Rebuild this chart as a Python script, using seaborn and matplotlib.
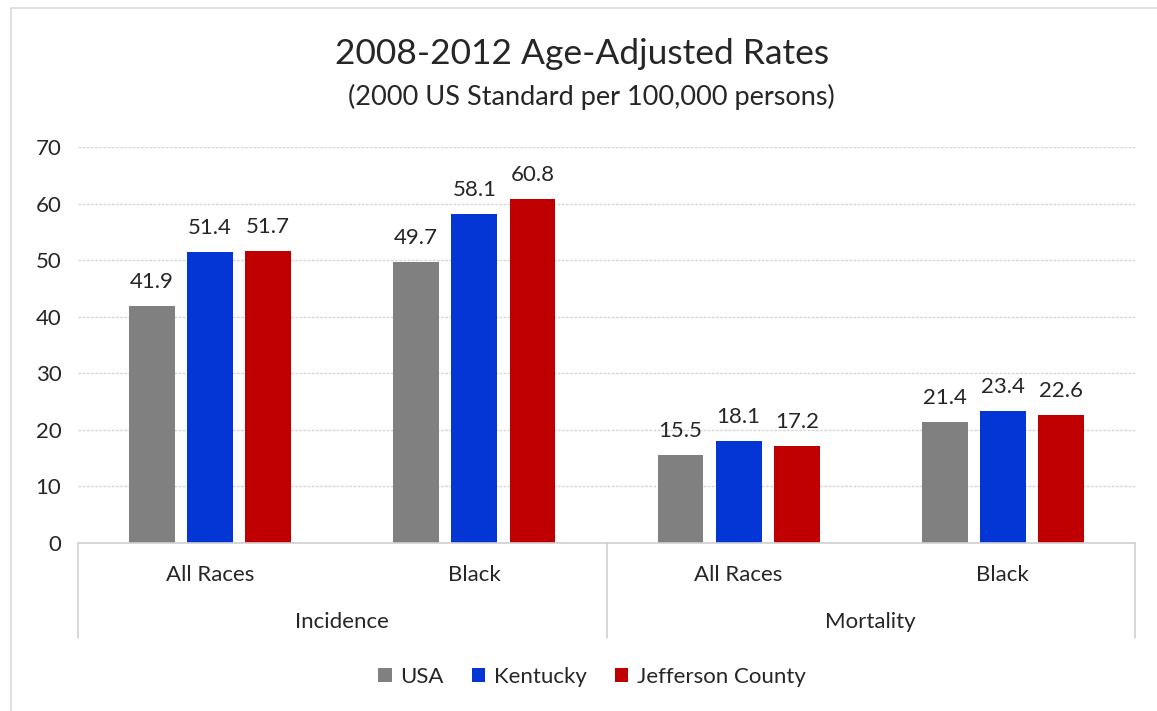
import matplotlib
matplotlib.use("Agg")
import matplotlib.pyplot as plt
import seaborn as sns
import pandas as pd
from matplotlib.patches import Rectangle
from matplotlib.lines import Line2D

# ---- data ----
groups = ["Incidence", "Incidence", "Mortality", "Mortality"]
races = ["All Races", "Black", "All Races", "Black"]
series = ["USA", "Kentucky", "Jefferson County"]
usa = [41.9, 49.7, 15.5, 21.4]
kentucky = [51.4, 58.1, 18.1, 23.4]
jefferson = [51.7, 60.8, 17.2, 22.6]
yticks = [0, 10, 20, 30, 40, 50, 60, 70]
title = "2008-2012 Age-Adjusted Rates"
subtitle = "(2000 US Standard per 100,000 persons)"

colors = ["#808080", "#0436D6", "#C00000"]
txt = "#262626"

cats = [f"{g}|{r}" for g, r in zip(groups, races)]
rows = []
for name, vals in zip(series, [usa, kentucky, jefferson]):
    for c, v in zip(cats, vals):
        rows.append({"cat": c, "series": name, "value": v})
df = pd.DataFrame(rows)

sns.set_theme(style="white")
plt.rcParams["font.family"] = ["Lato", "DejaVu Sans"]

W, H = 1157, 711
fig = plt.figure(figsize=(W / 100, H / 100), dpi=100)
ax = fig.add_axes([78 / W, 1 - 543 / H, (1135 - 78) / W, (543 - 147) / H])

sns.barplot(data=df, x="cat", y="value", hue="series", order=cats,
            hue_order=series, palette=colors, width=0.66, gap=0.21,
            saturation=1, ax=ax, legend=False, edgecolor="none")

ax.set_ylim(0, 70)
ax.set_xlim(-0.5, 3.5)
ax.set_yticks(yticks)
ax.set_yticklabels([str(t) for t in yticks], fontsize=16, color=txt)
ax.tick_params(axis="y", length=0, pad=12)
ax.set_xticks([])
ax.set_xlabel("")
ax.set_ylabel("")
for s in ["top", "right", "left"]:
    ax.spines[s].set_visible(False)
ax.spines["bottom"].set_color("#d0d0d0")
ax.spines["bottom"].set_linewidth(1.2)
ax.yaxis.grid(True, color="#d6d6d6", linestyle=(0, (2, 1)), linewidth=1.0)
ax.set_axisbelow(True)

# data labels
for cont in ax.containers:
    ax.bar_label(cont, labels=[f"{v:.1f}" for v in cont.datavalues],
                 padding=10, fontsize=16, color=txt)

# multi-level category axis
trans = ax.get_xaxis_transform()
for i, r in enumerate(races):
    ax.text(i, -0.081, r, transform=trans, ha="center", va="center",
            fontsize=16, color=txt)
uniq = []
for g in groups:
    if g not in uniq:
        uniq.append(g)
for gname in uniq:
    idx = [i for i, g in enumerate(groups) if g == gname]
    ax.text((idx[0] + idx[-1]) / 2, -0.20, gname, transform=trans,
            ha="center", va="center", fontsize=16, color=txt)
for xb in [-0.5, 1.5, 3.5]:
    ax.add_line(Line2D([xb, xb], [0, -0.24], transform=trans, color="#d0d0d0",
                       linewidth=1.2, clip_on=False))

# titles
fig.text(582 / W, 1 - 54 / H, title, ha="center", va="center",
         fontsize=25.5, color=txt)
fig.text(591 / W, 1 - 97 / H, subtitle, ha="center", va="center",
         fontsize=19.5, color=txt)

# legend
handles = [Rectangle((0, 0), 1, 1, facecolor=c, edgecolor="none") for c in colors]
fig.legend(handles, series, loc="center", bbox_to_anchor=(592 / W, 1 - 677 / H),
           ncol=3, frameon=False, fontsize=16, handlelength=0.6,
           handleheight=0.6, handletextpad=0.4, columnspacing=1.25,
           labelcolor=txt)

# outer border
fig.add_artist(Rectangle((11 / W, -0.01), 1.0, 1 - 8 / H + 0.01,
                         transform=fig.transFigure, fill=False,
                         edgecolor="#d9d9d9", linewidth=1.2))

fig.savefig("out.png", dpi=100)
